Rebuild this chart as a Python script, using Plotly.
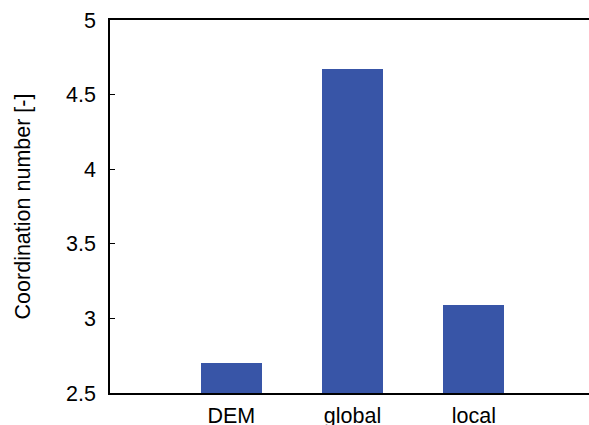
import plotly.graph_objects as go

# Mean coordination number per method
methods = ["DEM", "global", "local"]
coordination = [2.70, 4.67, 3.09]
positions = [1, 2, 3]

y_ticks = [2.5, 3, 3.5, 4, 4.5, 5]
y_tick_text = ["2.5", "3", "3.5", "4", "4.5", "5"]

fig = go.Figure(
    go.Bar(
        x=positions,
        y=coordination,
        width=0.5,
        marker=dict(color="#3855a7", line=dict(width=0)),
    )
)

font_family = "Liberation Sans, Arial, Helvetica, sans-serif"
fs = 21.5

fig.update_layout(
    width=589,
    height=425,
    margin=dict(l=110, r=0, t=20, b=32),
    paper_bgcolor="white",
    plot_bgcolor="white",
    showlegend=False,
    font=dict(family=font_family, size=fs, color="black"),
    bargap=0,
)

fig.update_xaxes(
    range=[0, 3.95],
    tickvals=positions,
    ticktext=methods,
    ticks="",
    showgrid=False,
    zeroline=False,
    showline=True,
    linecolor="black",
    linewidth=1.5,
    mirror=True,
    automargin=False,
    ticklabelstandoff=2,
    tickfont=dict(size=fs),
)

fig.update_yaxes(
    range=[2.5, 5],
    tickvals=y_ticks,
    ticktext=y_tick_text,
    ticks="inside",
    ticklen=5,
    tickcolor="black",
    tickwidth=1,
    showgrid=False,
    zeroline=False,
    showline=True,
    linecolor="black",
    linewidth=1.5,
    automargin=False,
    ticklabelstandoff=8,
    tickfont=dict(size=fs),
    title=dict(text="Coordination number [-]", font=dict(size=fs), standoff=30),
)

fig.write_html("out.html")
